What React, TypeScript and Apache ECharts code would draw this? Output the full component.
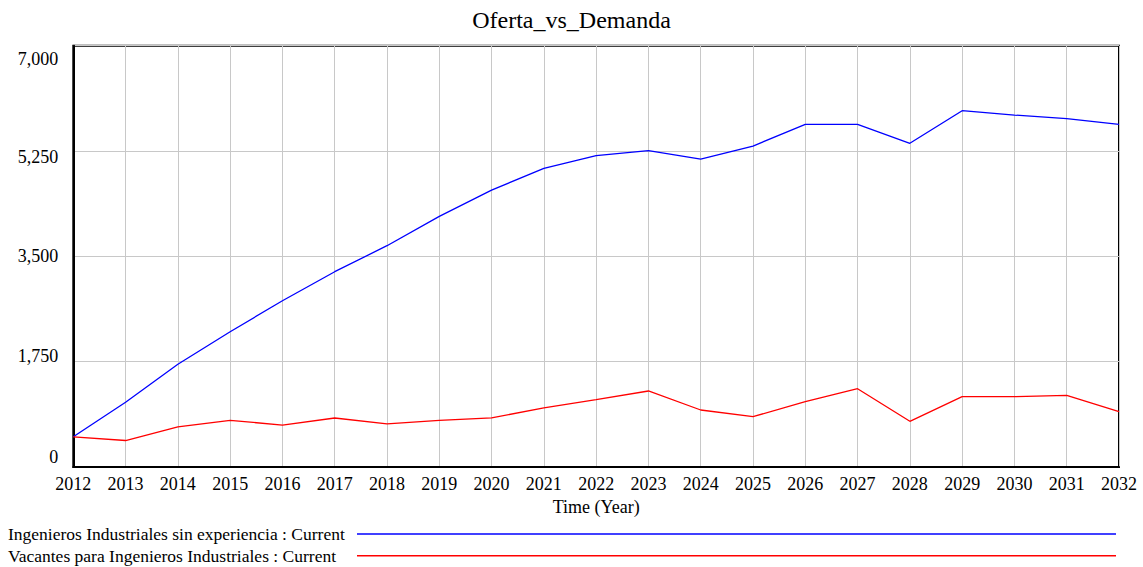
import React, { useEffect, useRef } from "react";
import * as echarts from "echarts";

const years = [2012, 2013, 2014, 2015, 2016, 2017, 2018, 2019, 2020, 2021, 2022, 2023, 2024, 2025, 2026, 2027, 2028, 2029, 2030, 2031, 2032];
const ingenieros = [503, 1075, 1706, 2248, 2763, 3245, 3677, 4165, 4600, 4962, 5172, 5255, 5117, 5333, 5694, 5694, 5378, 5920, 5848, 5787, 5694];
const vacantes = [500, 440, 665, 776, 696, 814, 717, 776, 816, 983, 1119, 1263, 947, 836, 1085, 1301, 759, 1168, 1168, 1191, 919];
const seriesNames = [
  "Ingenieros Industriales sin experiencia : Current",
  "Vacantes para Ingenieros Industriales : Current",
];
const yTicks = [0, 1750, 3500, 5250, 7000];

const FONT = "Liberation Serif";

function legendFor(name: string, top: number) {
  return {
    orient: "horizontal",
    left: 8,
    top,
    padding: 0,
    align: "right",
    icon: "rect",
    itemWidth: 759,
    itemHeight: 1.4,
    itemGap: 0,
    selectedMode: false,
    formatter: (n: string) => `{n|${n}}`,
    textStyle: {
      fontFamily: FONT,
      fontSize: 17.5,
      color: "#000",
      rich: {
        n: { fontFamily: FONT, fontSize: 17.5, color: "#000", width: 344, align: "left", lineHeight: 21.6 },
      },
    },
    data: [name],
  };
}

export default function App() {
  const ref = useRef<HTMLDivElement>(null);
  useEffect(() => {
    if (!ref.current) return;
    const chart = echarts.init(ref.current, null, { renderer: "svg" });
    const fmt = (v: number) => v.toLocaleString("en-US");
    const richY = (pad?: number[]) => ({ fontFamily: FONT, fontSize: 18, color: "#000", ...(pad ? { padding: pad } : {}) });
    chart.setOption({
      animation: false,
      backgroundColor: "#ffffff",
      textStyle: { fontFamily: FONT, color: "#000" },
      title: {
        text: "Oferta_vs_Demanda",
        left: "center",
        top: 3,
        textStyle: { fontFamily: FONT, fontSize: 24, fontWeight: "normal", color: "#000" },
      },
      grid: {
        left: 73.3,
        right: 24,
        top: 45.7,
        bottom: 100,
        show: true,
        borderColor: "#000",
        borderWidth: 2,
        backgroundColor: "transparent",
      },
      legend: [legendFor(seriesNames[0], 525), legendFor(seriesNames[1], 546.8)],
      xAxis: {
        type: "value",
        min: 2012,
        max: 2032,
        interval: 1,
        name: "Time (Year)",
        nameLocation: "middle",
        nameGap: 30,
        nameTextStyle: { fontFamily: FONT, fontSize: 18, color: "#000" },
        axisLine: { show: true, lineStyle: { color: "#000", width: 2 } },
        axisTick: { show: false },
        axisLabel: { fontFamily: FONT, fontSize: 18, color: "#000", margin: 8, formatter: (v: number) => String(v) },
        splitLine: { show: true, lineStyle: { color: "#c8c8c8", width: 1 } },
      },
      yAxis: {
        type: "value",
        min: 0,
        max: 7000,
        interval: 1750,
        axisLine: { show: true, lineStyle: { color: "#000", width: 2 } },
        axisTick: { show: false },
        axisLabel: {
          fontFamily: FONT,
          fontSize: 18,
          color: "#000",
          margin: 15,
          formatter: (v: number) => {
            const i = yTicks.indexOf(v);
            return `{s${i}|${fmt(v)}}`;
          },
          rich: {
            s0: richY([0, 0, 20, 0]),
            s1: richY([0, 0, 12, 0]),
            s2: richY(),
            s3: richY([12, 0, 0, 0]),
            s4: richY([27, 0, 0, 0]),
          },
        },
        splitLine: { show: true, lineStyle: { color: "#c8c8c8", width: 1 } },
      },
      series: [
        {
          name: seriesNames[0],
          type: "line",
          data: years.map((y, i) => [y, ingenieros[i]]),
          showSymbol: false,
          symbol: "none",
          lineStyle: { color: "#0000ff", width: 1.3 },
          itemStyle: { color: "#0000ff" },
        },
        {
          name: seriesNames[1],
          type: "line",
          data: years.map((y, i) => [y, vacantes[i]]),
          showSymbol: false,
          symbol: "none",
          lineStyle: { color: "#ff0000", width: 1.3 },
          itemStyle: { color: "#ff0000" },
        },
      ],
    });
    return () => chart.dispose();
  }, []);
  return (
    <div
      ref={ref}
      style={{ position: "absolute", left: 0, top: 0, width: 1143, height: 567 }}
    />
  );
}
